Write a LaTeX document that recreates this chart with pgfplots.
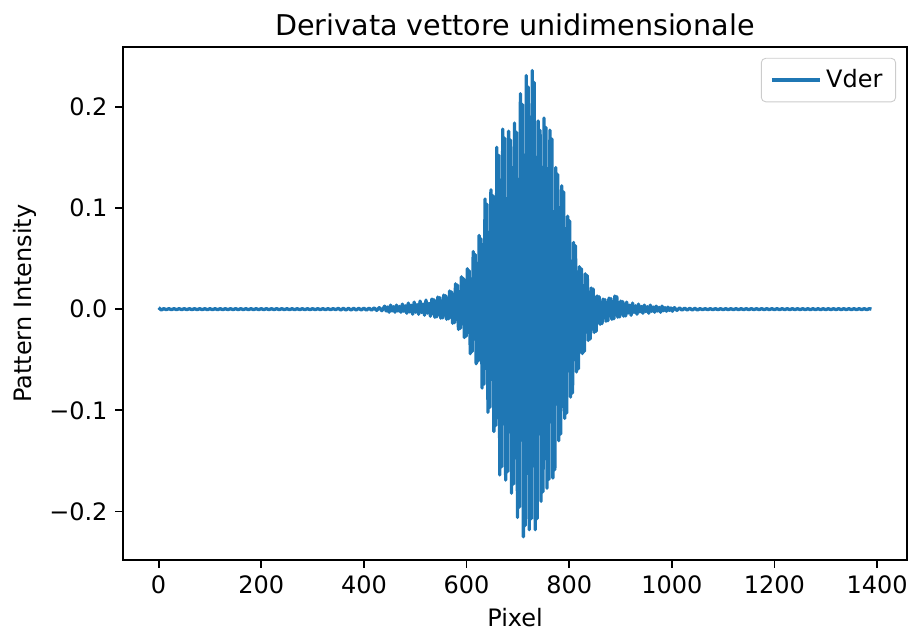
\documentclass[border=0pt]{standalone}
\usepackage{fontspec}
\setmainfont{DejaVu Sans}
\usepackage{pgfplots}
\pgfplotsset{compat=1.18}
\definecolor{mplblue}{HTML}{1F77B4}

\begin{document}
\begin{tikzpicture}
\useasboundingbox (0,0) rectangle (415.9pt,287.3pt);
\begin{axis}[
  at={(55.9pt,32.7pt)}, anchor=south west,
  scale only axis, width=356.4pt, height=233.2pt,
  xmin=-69.45, xmax=1458.45,
  ymin=-0.2481, ymax=0.2591,
  axis line style={black, line width=0.8pt},
  tick style={black, line width=0.8pt},
  major tick length=3.5pt,
  tick align=outside,
  xtick pos=bottom, ytick pos=left,
  xtick={0,200,400,600,800,1000,1200,1400},
  xticklabels={0,200,400,600,800,1000,1200,1400},
  ytick={-0.2,-0.1,0,0.1,0.2},
  yticklabels={−0.2,−0.1,0.0,0.1,0.2},
  ticklabel style={font=\fontsize{10.9}{13}\selectfont},
  title={Derivata vettore unidimensionale},
  title style={font=\fontsize{13}{15.6}\selectfont, inner sep=0pt, yshift=-1pt},
  xlabel={Pixel},
  xlabel style={at={([yshift=-21.5pt]axis description cs:0.5,0)}, anchor=north, inner sep=0pt, font=\fontsize{10.9}{13}\selectfont},
  ylabel={Pattern Intensity},
  ylabel style={at={([xshift=-44.5pt]axis description cs:0,0.5)}, anchor=center, inner sep=0pt, font=\fontsize{10.9}{13}\selectfont},
  legend style={at={(0.986,0.979)}, anchor=north east, draw=black!20, fill=white,
    rounded corners=2pt, inner xsep=4pt, inner ysep=3pt,
    font=\fontsize{10.9}{13}\selectfont},
  legend cell align=left,
  legend image code/.code={\draw[#1] (0pt,0pt) -- (22pt,0pt);},
]
\addplot[mplblue, line width=1.5pt, line join=round] coordinates {
(0,0.0015) (5,-0.0008)
(10,0.0005) (15,-0.0005) (20,0.0005) (25,-0.0005) (30,0.0005) (35,-0.0005) (40,0.0005) (45,-0.0005) (50,0.0005) (55,-0.0005)
(60,0.0005) (65,-0.0005) (70,0.0005) (75,-0.0005) (80,0.0005) (85,-0.0005) (90,0.0005) (95,-0.0005) (100,0.0005) (105,-0.0005)
(110,0.0005) (115,-0.0005) (120,0.0005) (125,-0.0005) (130,0.0005) (135,-0.0005) (140,0.0005) (145,-0.0005) (150,0.0005) (155,-0.0005)
(160,0.0005) (165,-0.0005) (170,0.0005) (175,-0.0005) (180,0.0005) (185,-0.0005) (190,0.0005) (195,-0.0005) (200,0.0005) (205,-0.0005)
(210,0.0005) (215,-0.0005) (220,0.0005) (225,-0.0005) (230,0.0005) (235,-0.0005) (240,0.0005) (245,-0.0005) (250,0.0005) (255,-0.0005)
(260,0.0005) (265,-0.0005) (270,0.0005) (275,-0.0005) (280,0.0005) (285,-0.0005) (290,0.0005) (295,-0.0005) (300,0.0005) (305,-0.0005)
(310,0.0005) (315,-0.0005) (320,0.0005) (325,-0.0005) (330,0.0005) (335,-0.0005) (340,0.0005) (345,-0.0005)
(350,0.0008) (355,-0.0008) (360,0.0008) (365,-0.0008) (370,0.0008) (375,-0.0008) (380,0.0008) (385,-0.0008) (390,0.0008) (395,-0.0008)
(400,0.0010) (405,-0.0010) (410,0.0010) (415,-0.0010) (420,0.0012) (425,-0.0012) (430,0.0015) (435,-0.0015)
(440.5,0.003) (443.375,-0.0018) (446.25,0.0021) (449.125,-0.003)
(452,0.004) (454.875,-0.0018) (457.75,0.0024) (460.625,-0.003)
(463.5,0.004) (466.375,-0.0018) (469.25,0.0027) (472.125,-0.003)
(475,0.005) (477.875,-0.0021) (480.75,0.0033) (483.625,-0.004)
(486.5,0.006) (489.375,-0.0027) (492.25,0.0039) (495.125,-0.005)
(498,0.007) (500.875,-0.003) (503.75,0.0045) (506.625,-0.005)
(509.5,0.008) (512.375,-0.0033) (515.25,0.0051) (518.125,-0.006)
(521,0.009) (523.875,-0.0039) (526.75,0.0057) (529.625,-0.007)
(532.5,0.010) (534.42,-0.0045) (536.33,0.0095) (538.25,-0.008) (540.17,0.0066) (542.08,-0.0076)
(544,0.012) (545.92,-0.0051) (547.83,0.0114) (549.75,-0.009) (551.67,0.0078) (553.58,-0.0086)
(555.5,0.014) (557.42,-0.0057) (559.33,0.0133) (561.25,-0.010) (563.17,0.0096) (565.08,-0.0095)
(567,0.018) (568.92,-0.0072) (570.83,0.0171) (572.75,-0.014) (574.67,0.0129) (576.58,-0.0133)
(578.5,0.025) (580.42,-0.0102) (582.33,0.0238) (584.25,-0.020) (586.17,0.0171) (588.08,-0.019)
(590,0.032) (591.92,-0.0144) (593.83,0.0304) (595.75,-0.028) (597.67,0.0216) (599.58,-0.0266)
(601.5,0.040) (603.42,-0.0216) (605.33,0.038) (607.25,-0.044) (609.17,0.0291) (611.08,-0.0418)
(613,0.057) (614.92,-0.0294) (616.83,0.0542) (618.75,-0.054) (620.67,0.039) (622.58,-0.0513)
(624.5,0.073) (626.42,-0.0396) (628.33,0.0694) (630.25,-0.078) (632.17,0.0546) (634.08,-0.0741)
(636,0.109) (637.92,-0.054) (639.83,0.1036) (641.75,-0.102) (643.67,0.0681) (645.58,-0.0969)
(647.5,0.118) (649.42,-0.0669) (651.33,0.1121) (653.25,-0.121) (655.17,0.0834) (657.08,-0.115)
(659,0.160) (660.92,-0.0855) (662.83,0.152) (664.75,-0.164) (666.67,0.1014) (668.58,-0.1558)
(670.5,0.178) (672.42,-0.0999) (674.33,0.1691) (676.25,-0.169) (678.17,0.1062) (680.08,-0.1606)
(682,0.176) (683.92,-0.1053) (685.83,0.1672) (687.75,-0.182) (689.67,0.108) (691.58,-0.1729)
(693.5,0.184) (695.42,-0.1164) (697.33,0.1748) (699.25,-0.206) (701.17,0.1191) (703.08,-0.1957)
(705,0.213) (706.92,-0.1293) (708.83,0.2024) (710.75,-0.225) (712.67,0.1332) (714.58,-0.2138)
(716.5,0.231) (718.42,-0.1329) (720.33,0.2195) (722.25,-0.218) (724.17,0.1401) (726.08,-0.2071)
(728,0.236) (729.92,-0.1308) (731.83,0.2242) (733.75,-0.218) (735.67,0.1266) (737.58,-0.2071)
(739.5,0.186) (741.42,-0.1224) (743.33,0.1767) (745.25,-0.190) (747.17,0.1125) (749.08,-0.1805)
(751,0.189) (752.92,-0.1101) (754.83,0.1796) (756.75,-0.177) (758.67,0.1098) (760.58,-0.1682)
(762.5,0.177) (764.42,-0.1032) (766.33,0.1682) (768.25,-0.167) (770.17,0.0951) (772.08,-0.1587)
(774,0.140) (775.92,-0.0891) (777.83,0.133) (779.75,-0.130) (781.67,0.0786) (783.58,-0.1235)
(785.5,0.122) (787.42,-0.0714) (789.33,0.1159) (791.25,-0.108) (793.17,0.0642) (795.08,-0.1026)
(797,0.092) (798.92,-0.0585) (800.83,0.0874) (802.75,-0.087) (804.67,0.0474) (806.58,-0.0827)
(808.5,0.066) (810.42,-0.0447) (812.33,0.0627) (814.25,-0.062) (816.17,0.0324) (818.08,-0.0589)
(820,0.042) (821.92,-0.0318) (823.83,0.0399) (825.75,-0.044) (827.67,0.0231) (829.58,-0.0418)
(831.5,0.035) (833.42,-0.0225) (835.33,0.0333) (837.25,-0.031) (839.17,0.0168) (841.08,-0.0295)
(843,0.021) (844.92,-0.0162) (846.83,0.020) (848.75,-0.023) (850.67,0.0102) (852.58,-0.0219)
(854.5,0.013) (856.42,-0.0114) (858.33,0.0124) (860.25,-0.015) (862.17,0.0069) (864.08,-0.0143)
(866,0.010) (867.92,-0.0081) (869.83,0.0095) (871.75,-0.012) (873.67,0.0063) (875.58,-0.0114)
(877.5,0.011) (879.42,-0.0066) (881.33,0.0105) (883.25,-0.010) (885.17,0.0072) (887.08,-0.0095)
(889,0.013) (890.92,-0.0054) (892.83,0.0124) (894.75,-0.008) (896.67,0.0063) (898.58,-0.0076)
(900.5,0.008) (902.42,-0.0045) (904.33,0.0076) (906.25,-0.007) (908.17,0.0045) (910.08,-0.0067)
(912,0.007) (914.875,-0.0039) (917.75,0.0039) (920.625,-0.006)
(923.5,0.006) (926.375,-0.0033) (929.25,0.0033) (932.125,-0.005)
(935,0.005) (937.875,-0.0027) (940.75,0.0027) (943.625,-0.004)
(946.5,0.004) (949.375,-0.0024) (952.25,0.0024) (955.125,-0.004)
(958,0.004) (960.875,-0.0021) (963.75,0.0021) (966.625,-0.003)
(969.5,0.003) (972.375,-0.0018) (975.25,0.0018) (978.125,-0.003)
(981,0.003) (983.875,-0.0015) (986.75,0.0015) (989.625,-0.002)
(992.5,0.002) (995.375,-0.0012) (998.25,0.0012) (1001.125,-0.002)
(1005,0.0015) (1010,-0.0012) (1015,0.0012) (1020,-0.0010) (1025,0.0010) (1030,-0.0008) (1035,0.0008) (1040,-0.0008) (1045,0.0008) (1050,-0.0008)
(1055,0.0005) (1060,-0.0005) (1065,0.0005) (1070,-0.0005) (1075,0.0005) (1080,-0.0005) (1085,0.0005) (1090,-0.0005) (1095,0.0005) (1100,-0.0005)
(1105,0.0005) (1110,-0.0005) (1115,0.0005) (1120,-0.0005) (1125,0.0005) (1130,-0.0005) (1135,0.0005) (1140,-0.0005) (1145,0.0005) (1150,-0.0005)
(1155,0.0005) (1160,-0.0005) (1165,0.0005) (1170,-0.0005) (1175,0.0005) (1180,-0.0005) (1185,0.0005) (1190,-0.0005) (1195,0.0005) (1200,-0.0005)
(1205,0.0005) (1210,-0.0005) (1215,0.0005) (1220,-0.0005) (1225,0.0005) (1230,-0.0005) (1235,0.0005) (1240,-0.0005) (1245,0.0005) (1250,-0.0005)
(1255,0.0005) (1260,-0.0005) (1265,0.0005) (1270,-0.0005) (1275,0.0005) (1280,-0.0005) (1285,0.0005) (1290,-0.0005) (1295,0.0005) (1300,-0.0005)
(1305,0.0005) (1310,-0.0005) (1315,0.0005) (1320,-0.0005) (1325,0.0005) (1330,-0.0005) (1335,0.0005) (1340,-0.0005) (1345,0.0005) (1350,-0.0005)
(1355,0.0005) (1360,-0.0005) (1365,0.0005) (1370,-0.0005) (1375,0.0005) (1380,-0.0005) (1385,0.0005) (1389,0.0)
};
\addlegendentry{Vder}
\end{axis}
\end{tikzpicture}
\end{document}
